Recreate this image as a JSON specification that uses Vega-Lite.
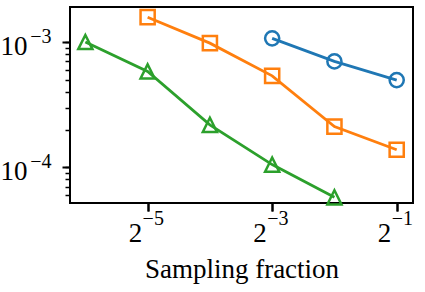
{
  "$schema": "https://vega.github.io/schema/vega-lite/v6.json",
  "width": 343,
  "height": 196,
  "autosize": "none",
  "padding": {"left": 70, "top": 7, "right": 12, "bottom": 89},
  "data": {"values": [
    {"frac": 0.125, "err": 0.00107, "series": "A"},
    {"frac": 0.25, "err": 0.00070, "series": "A"},
    {"frac": 0.5, "err": 0.000497, "series": "A"},
    {"frac": 0.03125, "err": 0.00158, "series": "B"},
    {"frac": 0.0625, "err": 0.00098, "series": "B"},
    {"frac": 0.125, "err": 0.000537, "series": "B"},
    {"frac": 0.25, "err": 0.000211, "series": "B"},
    {"frac": 0.5, "err": 0.000138, "series": "B"},
    {"frac": 0.015625, "err": 0.00100, "series": "C"},
    {"frac": 0.03125, "err": 0.000582, "series": "C"},
    {"frac": 0.0625, "err": 0.000218, "series": "C"},
    {"frac": 0.125, "err": 0.000105, "series": "C"},
    {"frac": 0.25, "err": 0.0000575, "series": "C"}
  ]},
  "config": {
    "view": {"stroke": "black", "strokeWidth": 2},
    "axis": {
      "labelFont": "Liberation Serif",
      "titleFont": "Liberation Serif",
      "labelColor": "black",
      "titleColor": "black",
      "tickColor": "black",
      "grid": false,
      "domain": false,
      "labelOverlap": false,
      "labelFlush": false,
      "labelBound": false,
      "titleFontWeight": "normal"
    }
  },
  "resolve": {"axis": {"x": "independent", "y": "independent"}},
  "layer": [
    {
      "mark": {"type": "line", "strokeWidth": 2.8},
      "encoding": {
        "x": {
          "field": "frac", "type": "quantitative",
          "scale": {"type": "log", "base": 2, "domain": [0.01317, 0.5995], "nice": false, "zero": false},
          "axis": {
            "orient": "bottom",
            "values": [0.03125, 0.125, 0.5],
            "labelExpr": "'2'",
            "labelFontSize": 27,
            "labelAlign": "center",
            "labelBaseline": "alphabetic",
            "labelOffset": -12.7,
            "labelPadding": 30.7,
            "tickSize": 8,
            "tickWidth": 2,
            "title": "Sampling fraction",
            "titleFontSize": 27,
            "titleBaseline": "alphabetic",
            "titleY": 74
          }
        },
        "y": {
          "field": "err", "type": "quantitative",
          "scale": {"type": "log", "domain": [0.0000518, 0.001905], "nice": false, "zero": false},
          "axis": {
            "orient": "left",
            "values": [0.0001, 0.001],
            "labelExpr": "'10'",
            "labelFontSize": 27,
            "labelAlign": "right",
            "labelBaseline": "alphabetic",
            "labelOffset": 12.4,
            "labelPadding": 35,
            "tickSize": 8,
            "tickWidth": 2,
            "title": null
          }
        },
        "color": {
          "field": "series", "type": "nominal",
          "scale": {"domain": ["A", "B", "C"], "range": ["#1f77b4", "#ff7f0e", "#2ca02c"]},
          "legend": null
        }
      }
    },
    {
      "mark": {"type": "point", "filled": false, "strokeWidth": 2.5, "opacity": 1},
      "encoding": {
        "x": {
          "field": "frac", "type": "quantitative",
          "axis": {
            "orient": "bottom",
            "values": [0.03125, 0.125, 0.5],
            "labelExpr": "'\u2212' + abs(round(log(datum.value) / LN2))",
            "labelFontSize": 20,
            "labelAlign": "left",
            "labelBaseline": "alphabetic",
            "labelOffset": -5.5,
            "labelPadding": 13.3,
            "tickSize": 8,
            "tickWidth": 2,
            "title": null
          }
        },
        "y": {
          "field": "err", "type": "quantitative",
          "axis": {
            "orient": "left",
            "values": [0.00006, 0.00007, 0.00008, 0.00009, 0.0001, 0.0002, 0.0003, 0.0004, 0.0005, 0.0006, 0.0007, 0.0008, 0.0009, 0.001],
            "labelExpr": "abs(log(datum.value) / LN10 - round(log(datum.value) / LN10)) < 0.001 ? '\u2212' + abs(round(log(datum.value) / LN10)) : ''",
            "labelFontSize": 20,
            "labelAlign": "right",
            "labelBaseline": "alphabetic",
            "labelOffset": 0.7,
            "labelPadding": 14,
            "tickSize": 5,
            "tickWidth": 1.5,
            "title": null
          }
        },
        "color": {"field": "series", "type": "nominal", "legend": null},
        "shape": {
          "field": "series", "type": "nominal",
          "scale": {"domain": ["A", "B", "C"], "range": ["circle", "square", "M0,-1L1,1L-1,1Z"]},
          "legend": null
        },
        "size": {
          "field": "series", "type": "nominal",
          "scale": {"domain": ["A", "B", "C"], "range": [200, 200, 300]},
          "legend": null
        }
      }
    }
  ]
}
